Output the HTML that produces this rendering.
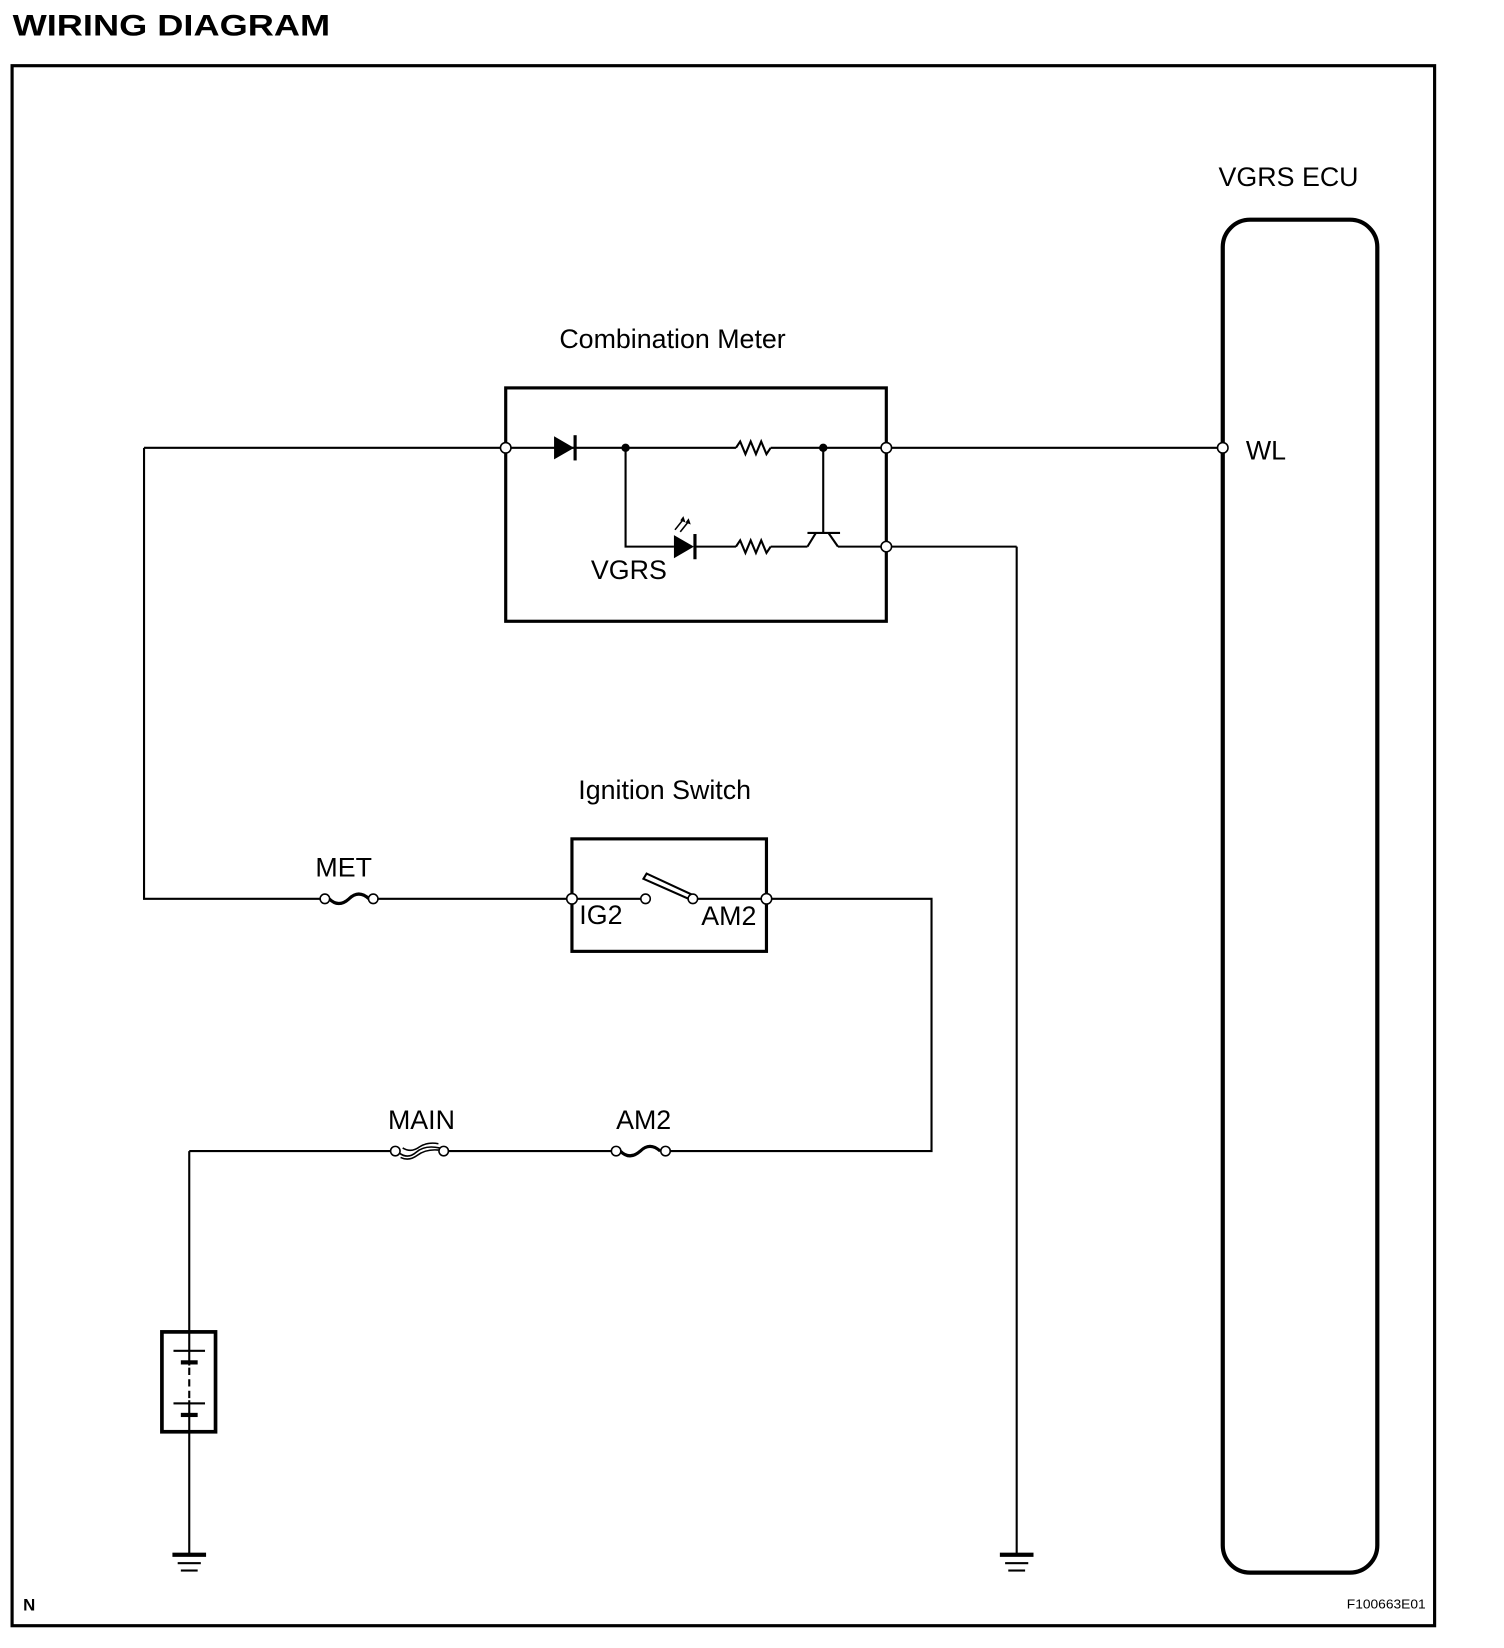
<!DOCTYPE html>
<html><head><meta charset="utf-8"><style>
html,body{margin:0;padding:0;background:#fff;}
svg{display:block;}
text{font-family:"Liberation Sans",Arial,sans-serif;fill:#000;}
</style></head><body>
<svg width="1504" height="1648" viewBox="0 0 1430.5 1567.7" preserveAspectRatio="none" xmlns="http://www.w3.org/2000/svg">
<text x="12" y="34" font-size="28" font-weight="bold" textLength="302" lengthAdjust="spacingAndGlyphs">WIRING DIAGRAM</text>
<rect x="11.5" y="62.5" width="1353" height="1484" fill="none" stroke="#000" stroke-width="3"/>
<text x="22" y="1532" font-size="16" font-weight="bold">N</text>
<text x="1281" y="1530" font-size="12" textLength="75" lengthAdjust="spacingAndGlyphs">F100663E01</text>

<g stroke="#000" fill="none" stroke-width="2">
<rect x="1163" y="209" width="147" height="1287" rx="26" stroke-width="4"/>
<rect x="481" y="369" width="362" height="222" stroke-width="3"/>
<line x1="137" y1="426" x2="700" y2="426"/>
<path d="M700 426 l4 -6 l5 12 l5 -12 l5 12 l5 -12 l5 12 l4 -6"/>
<line x1="733" y1="426" x2="1163" y2="426"/>
<polyline points="595,426 595,520 641,520"/>
<line x1="662" y1="520" x2="700" y2="520"/>
<path d="M700 520 l4 -6 l5 12 l5 -12 l5 12 l5 -12 l5 12 l4 -6"/>
<line x1="733" y1="520" x2="768" y2="520"/>
<line x1="783" y1="426" x2="783" y2="507"/>
<line x1="768" y1="507" x2="799" y2="507"/>
<line x1="768" y1="520" x2="776" y2="507"/>
<line x1="788" y1="507" x2="797" y2="520"/>
<line x1="797" y1="520" x2="967" y2="520"/>
<polyline points="967,520 967,1480"/>
<polyline points="137,426 137,855 305,855"/>
<line x1="357" y1="855" x2="544" y2="855"/>
<path d="M313 855 q9 9 19 0 q9 -9 19 0" stroke-width="3"/>
<rect x="544" y="798" width="185" height="107" stroke-width="3"/>
<line x1="544" y1="855" x2="610" y2="855"/>
<line x1="729" y1="855" x2="663" y2="855"/>
<polygon points="612,836 615,831 658,851 655,855" stroke-width="2"/>
<polyline points="729,855 886,855 886,1095 637,1095"/>
<line x1="582" y1="1095" x2="423" y2="1095"/>
<path d="M590 1095 q9 9 19 0 q9 -9 19 0" stroke-width="3"/>
<line x1="372" y1="1095" x2="180" y2="1095"/>
<path d="M380 1097 q8 6 16 -1 q8 -7 22 -4 M381 1101 q8 4 16 -2 q8 -6 20 -5 M383 1092 q8 5 16 -1 q8 -5 18 -3" stroke-width="1.5"/>
<line x1="180" y1="1095" x2="180" y2="1480"/>
<rect x="154" y="1267" width="51" height="95" fill="#fff" stroke-width="3.5"/>
<line x1="180" y1="1267" x2="180" y2="1362"/>
</g>
<g fill="#000">
<rect x="165" y="1284" width="30" height="2"/>
<rect x="172" y="1294" width="16" height="4"/>
<rect x="165" y="1334" width="30" height="2"/>
<rect x="172" y="1344" width="16" height="4"/>
</g>
<rect x="176" y="1299" width="6" height="33" fill="#fff"/>
<line x1="180" y1="1301" x2="180" y2="1331" stroke="#000" stroke-width="2" stroke-dasharray="7,4"/>
<g fill="#000">
<rect x="164" y="1477" width="32" height="4"/>
<rect x="169" y="1486" width="22" height="2"/>
<rect x="172" y="1493" width="16" height="2"/>
<rect x="951" y="1477" width="32" height="4"/>
<rect x="956" y="1486" width="22" height="2"/>
<rect x="959" y="1493" width="16" height="2"/>
</g>
<polygon points="527,415 527,437 546,426" fill="#000"/>
<line x1="547" y1="414" x2="547" y2="438" stroke="#000" stroke-width="3"/>
<polygon points="641,509 641,531 660,520" fill="#000"/>
<line x1="661" y1="508" x2="661" y2="532" stroke="#000" stroke-width="3"/>
<g stroke="#000" stroke-width="1.5">
<line x1="642" y1="504" x2="650" y2="494"/><line x1="647" y1="506" x2="655" y2="496"/>
</g>
<polygon points="650,491 652,497 647,495" fill="#000"/><polygon points="655,493 657,499 652,497" fill="#000"/>
<circle cx="595" cy="426" r="4" fill="#000"/>
<circle cx="783" cy="426" r="4" fill="#000"/>
<g fill="#fff" stroke="#000" stroke-width="1.5">
<circle cx="481" cy="426" r="5"/>
<circle cx="843" cy="426" r="5"/>
<circle cx="843" cy="520" r="5"/>
<circle cx="1163" cy="426" r="5"/>
<circle cx="544" cy="855" r="5"/>
<circle cx="729" cy="855" r="5"/>
<circle cx="614" cy="855" r="4.5"/>
<circle cx="659" cy="855" r="4.5"/>
<circle cx="309" cy="855" r="4.5"/>
<circle cx="355" cy="855" r="4.5"/>
<circle cx="376" cy="1095" r="4.5"/>
<circle cx="422" cy="1095" r="4.5"/>
<circle cx="586" cy="1095" r="4.5"/>
<circle cx="633" cy="1095" r="4.5"/>
</g>
<g font-size="25.5">
<text x="1159" y="177">VGRS ECU</text>
<text x="532" y="331">Combination Meter</text>
<text x="1185" y="437">WL</text>
<text x="562" y="551">VGRS</text>
<text x="550" y="760">Ignition Switch</text>
<text x="300" y="834">MET</text>
<text x="551" y="879">IG2</text>
<text x="667" y="880">AM2</text>
<text x="369" y="1074">MAIN</text>
<text x="586" y="1074">AM2</text>
</g>
</svg>
</body></html>
